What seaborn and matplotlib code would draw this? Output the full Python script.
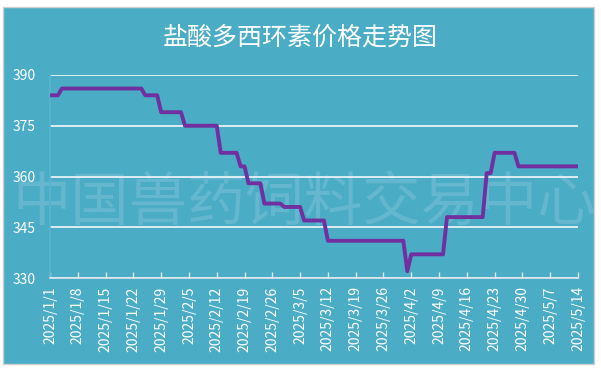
import matplotlib
matplotlib.use("Agg")
import matplotlib.pyplot as plt
from matplotlib.patches import Rectangle
import seaborn as sns
import pandas as pd

# ---- data ----
dates = ["2025-01-01", "2025-01-03", "2025-01-04", "2025-01-24", "2025-01-25",
         "2025-01-28", "2025-01-29", "2025-02-03", "2025-02-04", "2025-02-12",
         "2025-02-13", "2025-02-17", "2025-02-18", "2025-02-19", "2025-02-20",
         "2025-02-23", "2025-02-24", "2025-02-28", "2025-03-01", "2025-03-05",
         "2025-03-06", "2025-03-11", "2025-03-12", "2025-03-31", "2025-04-01",
         "2025-04-02", "2025-04-10", "2025-04-11", "2025-04-20", "2025-04-21",
         "2025-04-22", "2025-04-23", "2025-04-28", "2025-04-29", "2025-05-14"]
prices = [384, 384, 386, 386, 384,
          384, 379, 379, 375, 375,
          367, 367, 363, 363, 358,
          358, 352, 352, 351, 351,
          347, 347, 341, 341, 332,
          337, 337, 348, 348, 361,
          361, 367, 367, 363, 363]
yticks = [330, 345, 360, 375, 390]
tick_start = "2025-01-01"
tick_end = "2025-05-14"
title = "盐酸多西环素价格走势图"
watermark = "中国兽药饲料交易中心"

df = pd.DataFrame({"date": pd.to_datetime(dates), "price": prices})

sns.set_theme(style="white")
plt.rcParams["font.family"] = ["Noto Sans CJK SC", "DejaVu Sans"]

W, H = 601, 369
bg = "#4bacc6"
fig = plt.figure(figsize=(W / 100, H / 100), dpi=100, facecolor="white")
rect = Rectangle((3 / W, 1 - 364 / H), 591 / W, 357 / H,
                 transform=fig.transFigure, facecolor=bg,
                 edgecolor="#d0d0d0", linewidth=1, zorder=-5)
fig.patches.append(rect)

ax = fig.add_axes([50 / W, 1 - 278 / H, 528 / W, 203 / H])
ax.set_facecolor("none")
ax.set_zorder(2)

fig.text(300 / W, 1 - 38 / H, title, ha="center", va="center",
         color="white", fontsize=18)

sns.lineplot(data=df, x="date", y="price", ax=ax, color="#7030a0",
             linewidth=2.8, zorder=4)

ax.text(254 / 528, (369 - 203 - 91) / 203, watermark, transform=ax.transAxes,
        ha="center", va="center", color="white", alpha=0.14, fontsize=42,
        clip_on=False, zorder=0.3)

ax.set_ylim(330, 390)
ax.set_yticks(yticks)
ax.set_yticklabels([str(v) for v in yticks], color="white", fontsize=10)
ax.yaxis.grid(True, color="#e8f2f6", linewidth=1.3)
ax.set_axisbelow(True)

ticks = pd.date_range(tick_start, tick_end, freq="7D")
ax.set_xlim(ticks[0], ticks[-1])
ax.set_xticks(ticks)
ax.set_xticklabels([f"{d.year}/{d.month}/{d.day}" for d in ticks],
                   rotation=90, color="white", fontsize=10)
ax.tick_params(axis="x", direction="in", length=4, color="#dde8ee",
               width=1, pad=6, bottom=True)
ax.tick_params(axis="y", length=0, pad=10)

for s in ["top", "right"]:
    ax.spines[s].set_visible(False)
ax.spines["bottom"].set_color("#dde8ee")
ax.spines["bottom"].set_linewidth(1.2)
ax.spines["left"].set_color("#5ab4d0")
ax.spines["left"].set_linewidth(1.2)
ax.set_xlabel("")
ax.set_ylabel("")

fig.savefig("out.png", dpi=100, facecolor="white")
